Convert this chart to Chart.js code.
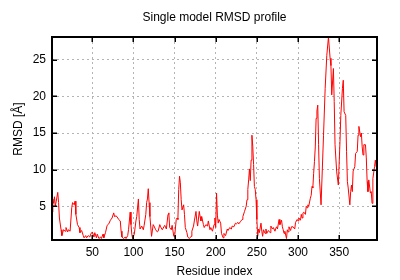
<!DOCTYPE html>
<html>
<head>
<meta charset="utf-8">
<script src="https://cdn.jsdelivr.net/npm/chart.js@4"></script>
<style>
  html, body { margin: 0; padding: 0; background: #fff; }
</style>
</head>
<body>
<canvas id="rmsdChart" width="400" height="280"></canvas>
<script>
// residue numbers and RMSD values
const residues = [
    1, 2, 3, 4, 5, 6, 8, 9, 10, 12,
    13, 15, 17, 18, 20, 21, 23, 25, 26, 28,
    29, 30, 32, 34, 35, 37, 39, 40, 42, 43,
    45, 47, 48, 50, 52, 53, 55, 56, 58, 60,
    61, 63, 64, 66, 68, 70, 72, 74, 76, 77,
    79, 81, 82, 84, 85, 86, 88, 90, 91, 93,
    94, 96, 97, 98, 99, 101, 103, 104, 106, 107,
    108, 110, 112, 113, 115, 116, 117, 118, 119, 120,
    122, 124, 125, 127, 129, 130, 132, 133, 135, 137,
    138, 140, 142, 143, 144, 146, 147, 149, 150, 152,
    153, 154, 155, 156, 157, 158, 159, 161, 162, 163,
    165, 166, 168, 170, 171, 173, 174, 176, 177, 178,
    180, 181, 182, 183, 185, 186, 188, 190, 191, 193,
    194, 196, 198, 199, 200, 201, 202, 203, 204, 206,
    207, 209, 210, 212, 214, 215, 217, 219, 220, 222,
    224, 225, 227, 228, 230, 232, 233, 235, 237, 238,
    239, 240, 241, 242, 243, 244, 245, 246, 247, 248,
    249, 250, 251, 252, 253, 255, 256, 257, 258, 260,
    261, 262, 264, 266, 267, 269, 270, 272, 273, 274,
    275, 277, 278, 280, 281, 282, 283, 284, 286, 287,
    288, 289, 291, 292, 294, 296, 297, 299, 300, 301,
    303, 304, 305, 306, 307, 309, 310, 311, 312, 313,
    315, 316, 317, 318, 319, 320, 321, 322, 323, 324,
    325, 326, 328, 331, 333, 335, 337, 339, 340, 341,
    343, 344, 345, 347, 349, 351, 352, 354, 355, 356,
    358, 359, 360, 361, 363, 364, 365, 366, 367, 369,
    370, 372, 373, 374, 376, 377, 378, 379, 380, 382,
    383, 384, 385, 386, 388, 389, 390, 391, 393, 394,
    395, 396
];
const rmsd = [
    4.2, 6.0, 5.4, 6.3, 5.0, 5.6, 6.9, 5.5, 3.4, 1.8,
    1.0, 1.8, 1.6, 2.1, 1.5, 1.8, 1.6, 4.8, 5.5, 5.2,
    5.7, 3.9, 2.5, 2.1, 1.4, 1.7, 1.0, 0.7, 1.0, 0.7,
    1.0, 0.8, 1.2, 1.5, 0.8, 1.4, 0.7, 1.2, 0.6, 0.8,
    0.6, 1.2, 0.7, 1.4, 2.4, 2.6, 3.1, 3.4, 4.1, 3.6,
    3.7, 3.4, 3.2, 3.0, 1.6, 0.8, 0.6, 0.8, 0.6, 1.0,
    1.8, 4.2, 2.5, 1.2, 0.6, 1.2, 3.0, 3.6, 6.0, 3.2,
    1.9, 2.3, 1.8, 2.4, 3.9, 5.5, 6.0, 7.4, 5.5, 3.6,
    0.9, 2.5, 2.3, 1.8, 1.5, 1.6, 2.5, 2.2, 1.8, 2.2,
    2.4, 1.9, 3.9, 4.1, 2.1, 1.8, 2.4, 0.9, 0.8, 3.2,
    3.4, 3.2, 7.3, 9.1, 8.2, 5.9, 4.5, 5.2, 3.9, 2.1,
    1.4, 0.8, 0.6, 0.9, 1.6, 2.3, 3.0, 4.3, 3.0, 2.3,
    4.3, 3.6, 3.0, 3.6, 2.5, 2.1, 2.5, 2.3, 3.0, 1.8,
    2.1, 1.6, 2.5, 3.4, 2.1, 6.8, 3.8, 2.7, 3.2, 2.7,
    1.3, 0.7, 1.3, 1.0, 1.9, 1.7, 2.1, 1.9, 2.3, 2.2,
    2.7, 2.6, 2.8, 2.6, 2.9, 3.2, 3.6, 4.3, 5.0, 5.9,
    7.3, 8.6, 10.1, 8.5, 11.3, 14.7, 13.2, 10.7, 7.7, 7.3,
    5.9, 3.2, 0.9, 1.9, 1.4, 2.7, 1.6, 0.9, 1.8, 1.3,
    1.9, 1.3, 1.7, 1.4, 2.3, 1.9, 2.1, 1.6, 2.0, 2.2,
    1.9, 3.2, 2.5, 3.1, 2.2, 1.8, 1.3, 1.6, 0.6, 1.8,
    1.5, 2.2, 1.7, 2.2, 2.2, 1.9, 2.8, 3.2, 3.0, 3.4,
    3.1, 3.9, 3.4, 4.1, 4.2, 3.9, 5.0, 4.8, 5.2, 5.0,
    6.1, 6.5, 7.7, 7.5, 9.5, 11.1, 13.1, 17.0, 18.0, 18.8,
    13.4, 8.8, 5.2, 14.7, 21.1, 25.6, 28.1, 25.2, 24.2, 20.2,
    23.8, 19.3, 13.4, 9.7, 7.9, 13.8, 17.4, 21.1, 22.2, 17.9,
    17.4, 12.5, 8.4, 7.5, 5.2, 7.0, 7.9, 7.0, 9.8, 10.4,
    12.2, 12.5, 14.7, 15.9, 14.5, 15.0, 13.1, 12.0, 13.4, 13.4,
    11.6, 8.4, 7.0, 8.6, 6.8, 7.0, 5.4, 8.8, 10.4, 11.3,
    10.4, 11.3
];
const xTicks = [50, 100, 150, 200, 250, 300, 350];
const yTicks = [5, 10, 15, 20, 25];

const chartTitle = 'Single model RMSD profile';
const xLabel = 'Residue index';
const yLabel = 'RMSD [Å]';

const FONT = '"Liberation Sans", Arial, Helvetica, sans-serif';

// gnuplot-like frame: thick border, inward ticks on all sides, titles
const gnuplotFrame = {
    id: 'gnuplotFrame',
    afterDraw(chart) {
        const ctx = chart.ctx;
        const a = chart.chartArea;
        const xs = chart.scales.x;
        const ys = chart.scales.y;
        ctx.save();
        ctx.strokeStyle = '#000';
        ctx.lineWidth = 1.5;
        ctx.beginPath();
        xTicks.forEach(v => {
            const x = Math.round(xs.getPixelForValue(v)) + 0.25;
            ctx.moveTo(x, a.bottom); ctx.lineTo(x, a.bottom - 5);
            ctx.moveTo(x, a.top); ctx.lineTo(x, a.top + 5);
        });
        yTicks.forEach(v => {
            const y = Math.round(ys.getPixelForValue(v)) + 0.25;
            ctx.moveTo(a.left, y); ctx.lineTo(a.left + 5, y);
            ctx.moveTo(a.right, y); ctx.lineTo(a.right - 5, y);
        });
        ctx.stroke();

        ctx.lineWidth = 2;
        ctx.strokeRect(a.left, a.top, a.right - a.left, a.bottom - a.top);

        ctx.fillStyle = '#000';
        ctx.font = '12px ' + FONT;
        ctx.textAlign = 'center';
        ctx.textBaseline = 'middle';
        const cx = (a.left + a.right) / 2;
        ctx.fillText(chartTitle, cx, 18);
        ctx.fillText(xLabel, cx, 271.5);
        ctx.translate(19, 129);
        ctx.rotate(-Math.PI / 2);
        ctx.fillText(yLabel, 0, 0);
        ctx.restore();
    }
};

var ctx = document.getElementById('rmsdChart').getContext('2d');
var rmsdChart = new Chart(ctx, {
    type: 'line',
    data: {
        datasets: [{
            label: 'RMSD',
            data: residues.map((r, i) => ({ x: r, y: rmsd[i] })),
            borderColor: '#ff0000',
            borderWidth: 1,
            pointRadius: 0,
            tension: 0,
            fill: false
        }]
    },
    options: {
        responsive: false,
        animation: false,
        layout: { padding: { top: 37, right: 23, left: 0, bottom: 0 } },
        plugins: {
            legend: { display: false },
            tooltip: { enabled: false },
            title: { display: false }
        },
        scales: {
            x: {
                type: 'linear',
                min: 1,
                max: 396,
                afterFit: s => { s.height = 40; },
                afterBuildTicks: s => { s.ticks = xTicks.map(v => ({ value: v })); },
                grid: { color: '#b4b4b4', lineWidth: 1, drawTicks: false },
                border: { display: false, dash: [2, 3] },
                ticks: {
                    autoSkip: false, maxRotation: 0, padding: 5,
                    color: '#000', font: { family: FONT, size: 12 },
                    callback: v => String(v)
                }
            },
            y: {
                type: 'linear',
                min: 0.4,
                max: 28.1,
                afterFit: s => { s.width = 52; },
                afterBuildTicks: s => { s.ticks = yTicks.map(v => ({ value: v })); },
                grid: { color: '#b4b4b4', lineWidth: 1, drawTicks: false },
                border: { display: false, dash: [2, 3] },
                ticks: {
                    padding: 6,
                    color: '#000', font: { family: FONT, size: 12 },
                    callback: v => String(v)
                }
            }
        }
    },
    plugins: [gnuplotFrame]
});
</script>
</body>
</html>
